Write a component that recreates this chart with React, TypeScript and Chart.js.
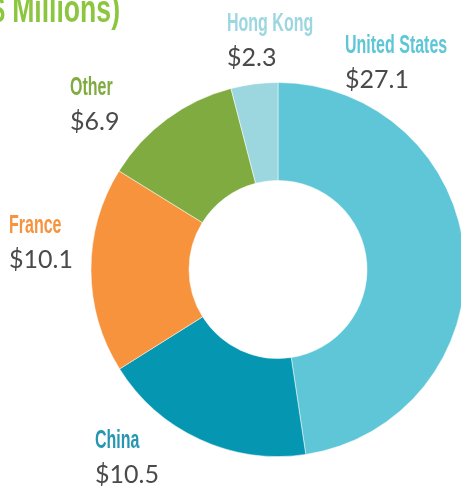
import React, { useEffect, useRef } from "react";
import { Chart, registerables } from "chart.js";

Chart.register(...registerables);

const categories = ["United States", "China", "France", "Other", "Hong Kong"];
const values = [27.1, 10.5, 10.1, 6.9, 2.3];
const sliceColors = ["#5EC6D7", "#0596B2", "#F7923D", "#80AB41", "#9CD7E0"];
const labelColors = ["#5EC6D7", "#2597B2", "#F7923D", "#80AB41", "#9CD7E0"];
const titleText = "($ Millions)";

// label anchor positions (baseline-left) in canvas pixels
const labelAnchors: [number, number][] = [
  [345, 53],
  [95, 448],
  [9, 233],
  [70, 95],
  [227, 31],
];

function drawCondensed(
  ctx: CanvasRenderingContext2D,
  text: string,
  x: number,
  y: number,
  color: string,
  font: string,
  sx: number,
  align: CanvasTextAlign
) {
  ctx.save();
  ctx.translate(x, y);
  ctx.scale(sx, 1);
  ctx.font = font;
  ctx.fillStyle = color;
  ctx.textAlign = align;
  ctx.textBaseline = "alphabetic";
  ctx.fillText(text, 0, 0);
  ctx.restore();
}

const labelPlugin = {
  id: "outerLabels",
  afterDraw(chart: any) {
    const ctx: CanvasRenderingContext2D = chart.ctx;
    ctx.save();
    drawCondensed(ctx, titleText, 120, 22, "#8CC63F", 'bold 38px "Liberation Sans"', 0.7, "right");
    categories.forEach((c, i) => {
      const [x, y] = labelAnchors[i];
      drawCondensed(ctx, c, x, y, labelColors[i], 'bold 25px "Liberation Sans"', 0.64, "left");
      ctx.font = "25px Lato";
      ctx.fillStyle = "#4A4A4A";
      ctx.textAlign = "left";
      ctx.textBaseline = "alphabetic";
      ctx.fillText("$" + values[i].toFixed(1), x, y + 34.5);
    });
    ctx.restore();
  },
};

export default function App() {
  const ref = useRef<HTMLCanvasElement | null>(null);
  useEffect(() => {
    if (!ref.current) return;
    const chart = new Chart(ref.current, {
      type: "doughnut",
      data: {
        labels: categories,
        datasets: [
          {
            data: values,
            backgroundColor: sliceColors,
            borderWidth: 0.5,
            borderColor: "#ffffff",
            clip: false as any,
          },
        ],
      },
      options: {
        responsive: false,
        animation: false,
        devicePixelRatio: 1,
        radius: 187,
        cutout: "47.6%",
        layout: { padding: { left: 95, top: 50, right: 0, bottom: 0 } },
        plugins: {
          legend: { display: false },
          tooltip: { enabled: false },
        },
      } as any,
      plugins: [labelPlugin],
    });
    return () => chart.destroy();
  }, []);
  return (
    <div
      style={{
        position: "fixed",
        left: 0,
        top: 0,
        width: 461,
        height: 489,
        overflow: "hidden",
        background: "#ffffff",
      }}
    >
      <canvas ref={ref} width={461} height={489} style={{ display: "block" }} />
    </div>
  );
}
